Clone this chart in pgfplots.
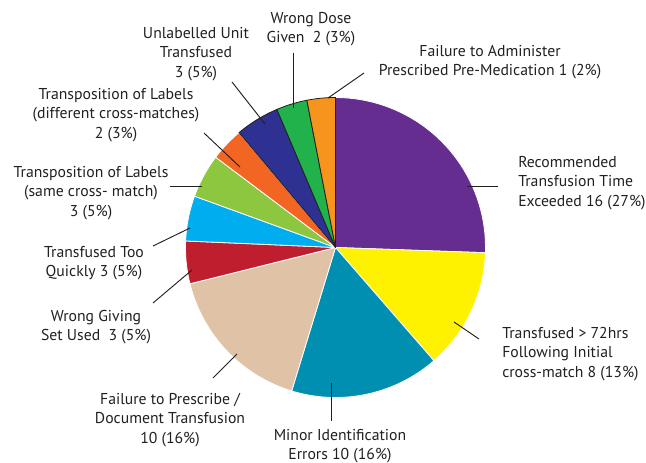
\documentclass[border=0pt]{standalone}
\usepackage{pgfplots}
\pgfplotsset{compat=1.18}
\usepackage{fontspec}
\setmainfont{PT Sans}

\definecolor{cPurple}{HTML}{662D91}
\definecolor{cYellow}{HTML}{FFF200}
\definecolor{cTeal}{HTML}{008FB0}
\definecolor{cBeige}{HTML}{E0C2A6}
\definecolor{cRed}{HTML}{BE1E2D}
\definecolor{cSky}{HTML}{00AEEF}
\definecolor{cLime}{HTML}{8DC63F}
\definecolor{cOrRed}{HTML}{F26522}
\definecolor{cNavy}{HTML}{2E3192}
\definecolor{cGreen}{HTML}{22B24C}
\definecolor{cOrange}{HTML}{F7941D}
\definecolor{txt}{HTML}{231F20}

\tikzset{lbl/.style={font=\fontsize{11.8}{14.5}\selectfont, text=txt, inner sep=0pt}}

% slice sizes as drawn in the chart (degrees, clockwise from 12 o'clock)
% pie centre (335.5,-247.5), radius 150
\newcommand\slice[4][white]{%
  \filldraw[fill=#4, draw=#1, line width=0.6pt, line join=round]
    (axis cs:335.5,-247.5) --
    plot[domain={90-#2}:{90-#2-#3}, samples=40, variable=\t]
      (axis cs:{335.5+150*cos(\t)},{-247.5+150*sin(\t)})
    -- cycle;}

\begin{document}
\begin{tikzpicture}
\begin{axis}[
  width=484.5pt, height=345.75pt, scale only axis,
  xmin=0, xmax=646, ymin=-461, ymax=0,
  hide axis, clip=false,
]
\path (axis cs:0,-461) rectangle (axis cs:646,0);

% start angle, sweep, colour
\slice{0}{92}{cPurple}      % 16 (27%)
\slice{92}{47}{cYellow}     % 8 (13%)
\slice{139}{58}{cTeal}      % 10 (16%)
\slice{197}{59}{cBeige}     % 10 (16%)
\slice{256}{16.5}{cRed}     % 3 (5%)
\slice{272.5}{17.5}{cSky}   % 3 (5%)
\slice{290}{17}{cLime}      % 3 (5%)
\slice{307}{13}{cOrRed}     % 2 (3%)
\slice[txt]{320}{17}{cNavy} % 3 (5%)
\slice[txt]{337}{12}{cGreen}% 2 (3%)
\slice[txt]{349}{11}{cOrange}% 1 (2%)

\draw[line width=0.7pt, txt] (axis cs:293,-53) -- (axis cs:293,-108);
\draw[line width=0.7pt, txt] (axis cs:364,-73) -- (axis cs:328,-98);
\draw[line width=0.7pt, txt] (axis cs:467,-186) -- (axis cs:498,-186);
\draw[line width=0.7pt, txt] (axis cs:454,-322) -- (axis cs:479,-339);
\draw[line width=0.7pt, txt] (axis cs:331,-383) -- (axis cs:331,-421);
\draw[line width=0.7pt, txt] (axis cs:213,-378) -- (axis cs:237,-354);
\draw[line width=0.7pt, txt] (axis cs:153,-303) -- (axis cs:192,-270);
\draw[line width=0.7pt, txt] (axis cs:153,-246) -- (axis cs:190,-228);
\draw[line width=0.7pt, txt] (axis cs:170,-186) -- (axis cs:202,-186);
\draw[line width=0.7pt, txt] (axis cs:204,-133) -- (axis cs:240,-167);
\draw[line width=0.7pt, txt] (axis cs:232,-82) -- (axis cs:265,-124);

\node[lbl, align=center] at (axis cs:311,-29) {Wrong Dose\\Given\ \ 2 (3\%)};
\node[lbl, align=center] at (axis cs:490,-62) {Failure to Administer\\Prescribed Pre-Medication 1 (2\%)};
\node[lbl, align=left, anchor=west] at (axis cs:518,-183) {Recommended\\Transfusion Time\\Exceeded 16 (27\%)};
\node[lbl, align=left, anchor=west] at (axis cs:502,-354) {Transfused > 72hrs\\Following Initial\\cross-match 8 (13\%)};
\node[lbl, align=center] at (axis cs:340,-446) {Minor Identification\\Errors 10 (16\%)};
\node[lbl, align=center] at (axis cs:170,-420) {\mbox{Failure to Prescribe /}\\Document Transfusion\\10 (16\%)};
\node[lbl, align=center] at (axis cs:96,-327) {Wrong Giving\\Set Used\ \ 3 (5\%)};
\node[lbl, align=center] at (axis cs:94,-263) {Transfused Too\\Quickly 3 (5\%)};
\node[lbl, align=center] at (axis cs:91,-193) {Transposition of Labels\\(same cross- match)\\3 (5\%)};
\node[lbl, align=center] at (axis cs:116,-115) {Transposition of Labels\\(different cross-matches)\\2 (3\%)};
\node[lbl, align=center] at (axis cs:196,-54) {Unlabelled Unit\\Transfused\\3 (5\%)};
\end{axis}
\end{tikzpicture}
\end{document}
